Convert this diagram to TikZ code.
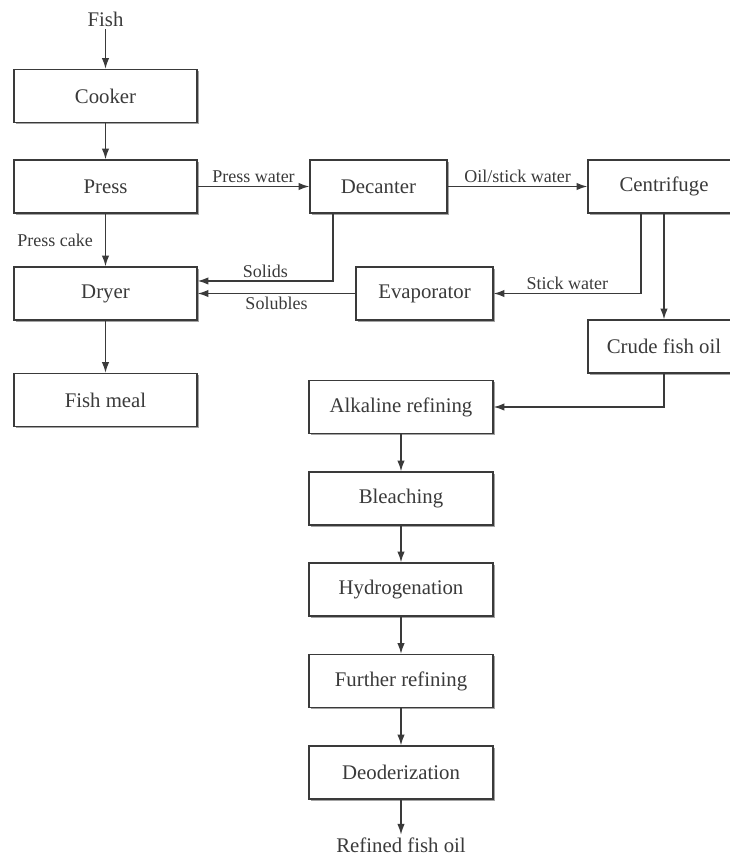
\documentclass[tikz,border=0pt]{standalone}
\usepackage{fontspec}
\setmainfont{Liberation Serif}
\usetikzlibrary{arrows.meta,shadows}
\definecolor{ink}{HTML}{3A3A3A}
\begin{document}
\begin{tikzpicture}[x=0.75pt,y=-0.75pt,
  stage/.style={draw=ink, line width=1pt, fill=white, text=ink,
    font=\fontsize{15.6}{18}\selectfont, minimum height=39.75pt, inner sep=0pt,
    drop shadow={shadow xshift=1.4pt, shadow yshift=-1.4pt, fill=black!45, opacity=0.8}},
  flow/.style={draw=ink, line width=1pt, -{Latex[length=8pt,width=5.5pt]}},
  lbl/.style={text=ink, font=\fontsize{13.5}{15}\selectfont, inner sep=2pt},
  term/.style={text=ink, font=\fontsize{15.6}{18}\selectfont, inner sep=2pt}]
\useasboundingbox (0,0) rectangle (730,860);
\clip (0,0) rectangle (730,860);

% fish meal line
\node[term] (fish) at (105.5,19) {Fish};
\node[stage, minimum width=137.25pt] (cooker) at (105.5,96) {Cooker};
\node[stage, minimum width=137.25pt] (press) at (105.5,186.5) {Press};
\node[stage, minimum width=137.25pt] (dryer) at (105.5,293.5) {Dryer};
\node[stage, minimum width=137.25pt] (meal) at (105.5,400) {Fish meal};

% water and oil separation
\node[stage, minimum width=102.75pt] (decanter) at (378.5,186.5) {Decanter};
\node[stage, minimum width=114pt] (centrifuge) at (664,186.5) {Centrifuge};
\node[stage, minimum width=102.75pt] (evaporator) at (424.5,293.5) {Evaporator};
\node[stage, minimum width=114pt] (crude) at (664,346.5) {Crude fish oil};

% oil refining line
\node[stage, minimum width=138pt] (alkaline) at (401,407) {Alkaline refining};
\node[stage, minimum width=138pt] (bleaching) at (401,498.5) {Bleaching};
\node[stage, minimum width=138pt] (hydro) at (401,589.5) {Hydrogenation};
\node[stage, minimum width=138pt] (further) at (401,681) {Further refining};
\node[stage, minimum width=138pt] (deodor) at (401,772.5) {Deoderization};
\node[term] (refined) at (401,845) {Refined fish oil};

% connectors
\draw[flow] (fish) -- (cooker);
\draw[flow] (cooker) -- (press);
\draw[flow] (press) -- node[lbl, left=7pt] {Press cake} (dryer);
\draw[flow] (dryer) -- (meal);
\draw[flow] (press) -- node[lbl, above] {Press water} (decanter);
\draw[flow] (decanter) -- node[lbl, above] {Oil/stick water} (centrifuge);
\draw[flow] ([xshift=-34.1pt]decanter.south) |- node[lbl, above, pos=0.75] {Solids} ([yshift=9.4pt]dryer.east);
\draw[flow] ([xshift=-17.25pt]centrifuge.south) |- node[lbl, above, pos=0.75] {Stick water} (evaporator.east);
\draw[flow] (evaporator.west) -- node[lbl, below] {Solubles} (evaporator.west -| dryer.east);
\draw[flow] (centrifuge) -- (crude);
\draw[flow] (crude.south) |- (alkaline.east);
\draw[flow] (alkaline) -- (bleaching);
\draw[flow] (bleaching) -- (hydro);
\draw[flow] (hydro) -- (further);
\draw[flow] (further) -- (deodor);
\draw[flow] (deodor) -- (refined);
\end{tikzpicture}
\end{document}
